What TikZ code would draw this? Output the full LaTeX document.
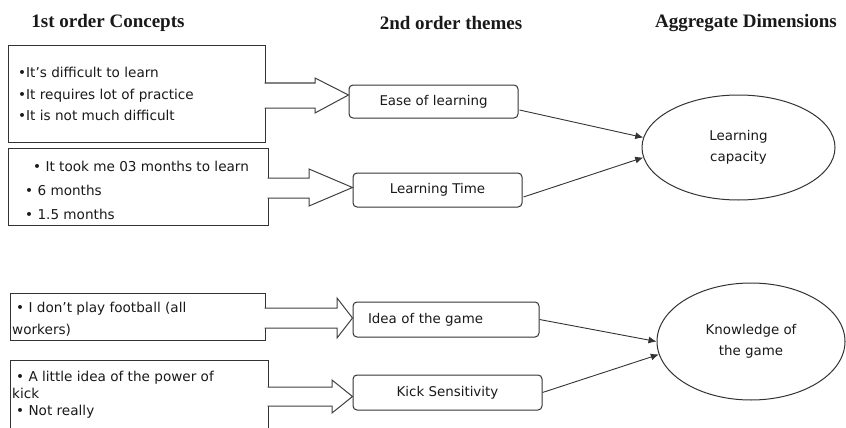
\documentclass[tikz,border=0pt]{standalone}
\usepackage{fontspec}
\setmainfont{DejaVu Sans}
\newfontfamily\headfont{Liberation Serif}
\usetikzlibrary{shapes.geometric,arrows.meta,calc}

\begin{document}
\begin{tikzpicture}[x=1pt,y=-1pt,
  concept/.style={draw=black!80,line width=1pt,inner sep=0},
  bullets/.style={anchor=west,align=left,inner sep=0,text=black!90,font=\fontsize{13.6}{#1}\selectfont},
  theme/.style={draw=black!80,line width=1pt,rounded corners=4pt,inner sep=0,text=black!90,font=\fontsize{13.4}{16}\selectfont},
  dimension/.style={ellipse,draw=black!80,line width=1pt,inner sep=0,align=center,text=black!90,font=\fontsize{13.4}{21}\selectfont},
  heading/.style={text=black!90,font=\headfont\bfseries\fontsize{19}{23}\selectfont},
  blockarrow/.style={draw=black!75,line width=1pt,fill=white,line join=miter},
  link/.style={draw=black!80,line width=0.9pt,-{Latex[length=8pt,width=7pt]}}]

  \clip (0,0) rectangle (846,428);

  % column headings
  \node[heading] (h1) at (108,23) {1st order Concepts};
  \node[heading] (h2) at (451,23) {2nd order themes};
  \node[heading] (h3) at (746,23) {Aggregate Dimensions};

  % 1st order concepts
  \node[concept,minimum width=257,minimum height=96] (c1) at (136.5,94) {};
  \node[concept,minimum width=260,minimum height=77] (c2) at (138,186.5) {};
  \node[concept,minimum width=255,minimum height=47] (c3) at (137.5,316.5) {};
  \node[concept,minimum width=258,minimum height=72] (c4) at (139,396) {};

  \node[bullets=21.5] (t1) at (18,94) {•It’s difficult to learn\\•It requires lot of practice\\•It is not much difficult};
  \node[bullets=24] (t2) at (25,190) {\hspace*{8pt}• It took me 03 months to learn\\• 6 months\\• 1.5 months};
  \node[bullets=22] (t3) at (12,319) {\hspace*{4pt}• I don’t play football (all\\workers)};
  \node[bullets=17] (t4) at (12,395) {\hspace*{4pt}• A little idea of the power of\\kick\\\hspace*{4pt}• Not really};

  % 2nd order themes
  \node[theme,minimum width=169,minimum height=33] (e1) at (433.5,101.5) {Ease of learning};
  \node[theme,minimum width=169,minimum height=34] (e2) at (437.5,190) {Learning Time};
  \node[theme,minimum width=186,minimum height=35,text width=156,inner xsep=15,align=left] (e3) at (446,319.5) {Idea of the game};
  \node[theme,minimum width=189,minimum height=35] (e4) at (447.5,392.5) {Kick Sensitivity};

  % aggregate dimensions
  \node[dimension,minimum width=193,minimum height=105] (d1) at (738.5,147.5) {Learning\\capacity};
  \node[dimension,minimum width=188,minimum height=117] (d2) at (751,341.5) {Knowledge of\\the game};

  % block arrows
  \draw[blockarrow] ($(c1.east |- 0,83)+(-1,0)$) -- (315,83) -- (315,78) -- (e1.west |- 0,95)
    -- (315,113) -- (315,108) -- ($(c1.east |- 0,108)+(-1,0)$);
  \draw[blockarrow] ($(c2.east |- 0,178)+(-1,0)$) -- (309,178) -- (309,169) -- (e2.west |- 0,187.5)
    -- (309,206) -- (309,198) -- ($(c2.east |- 0,198)+(-1,0)$);
  \draw[blockarrow] ($(c3.east |- 0,308)+(-1,0)$) -- (337,308) -- (337,298) -- (e3.west |- 0,318)
    -- (337,338) -- (337,328) -- ($(c3.east |- 0,328)+(-1,0)$);
  \draw[blockarrow] ($(c4.east |- 0,387)+(-1,0)$) -- (332,387) -- (332,380) -- (e4.west |- 0,396.5)
    -- (332,413) -- (332,406) -- ($(c4.east |- 0,406)+(-1,0)$);

  % links
  \draw[link] ($(e1.east)+(1,8.5)$) -- (d1.174);
  \draw[link] ($(e2.east)+(1,7)$) -- (d1.186);
  \draw[link] (e3.east) -- (d2.180);
  \draw[link] (e4.east) -- (d2.188);
\end{tikzpicture}
\end{document}
